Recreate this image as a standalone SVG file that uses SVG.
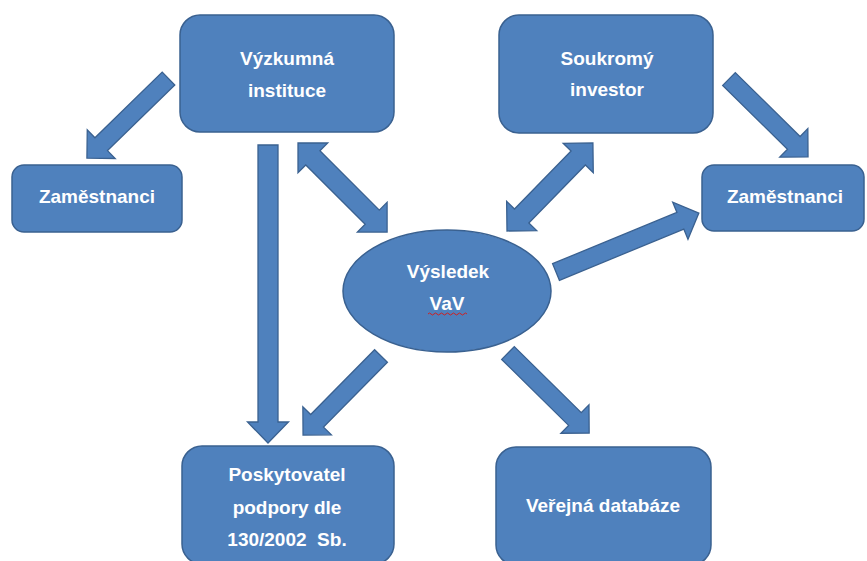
<svg xmlns="http://www.w3.org/2000/svg" width="867" height="561" viewBox="0 0 867 561">
<style>
.shape{fill:#4F81BD;stroke:#3A6190;stroke-width:1.5}
.arrow{fill:#4F81BD;stroke:#3A6190;stroke-width:1.3;stroke-linejoin:miter}
.t{font-family:"Liberation Sans",Arial,sans-serif;font-weight:bold;font-size:19px;fill:#FFFFFF;text-anchor:middle}
</style>
<rect width="867" height="561" fill="#FFFFFF"/>
<g id="connectors">
  <path class="arrow" transform="translate(168.5,78.5) rotate(135.7)" d="M0,-9 H94 V-20 L114,0 L94,20 V9 H0 Z"/>
  <path class="arrow" transform="translate(268,145) rotate(90)" d="M0,-10 H277 V-20.5 L298,0 L277,20.5 V10 H0 Z"/>
  <path class="arrow" transform="translate(298,143) rotate(45)" d="M0,0 L21,-21 V-10 H105 V-21 L126,0 L105,21 V10 H21 V21 Z"/>
  <path class="arrow" transform="translate(507,231) rotate(-45.7)" d="M0,0 L21,-21 V-10 H102 V-21 L123,0 L102,21 V10 H21 V21 Z"/>
  <path class="arrow" transform="translate(729,79) rotate(44.6)" d="M0,-9 H91 V-20 L111,0 L91,20 V9 H0 Z"/>
  <path class="arrow" transform="translate(556,272) rotate(-22.4)" d="M0,-9 H134.5 V-20 L154.5,0 L134.5,20 V9 H0 Z"/>
  <path class="arrow" transform="translate(381,356) rotate(134.6)" d="M0,-9 H91 V-20 L111,0 L91,20 V9 H0 Z"/>
  <path class="arrow" transform="translate(508,353) rotate(44.6)" d="M0,-9 H94 V-20 L114,0 L94,20 V9 H0 Z"/>
</g>
<g id="vyzkumna">
  <rect class="shape" x="180" y="15" width="214" height="117" rx="20"/>
  <text class="t" x="287" y="65">Výzkumná</text>
  <text class="t" x="287" y="97">instituce</text>
</g>
<g id="zamestnanci-left">
  <rect class="shape" x="12" y="165" width="170" height="67" rx="12"/>
  <text class="t" x="97" y="203">Zaměstnanci</text>
</g>
<g id="soukromy">
  <rect class="shape" x="499" y="15" width="214" height="118" rx="20"/>
  <text class="t" x="607" y="65">Soukromý</text>
  <text class="t" x="607" y="96">investor</text>
</g>
<g id="zamestnanci-right">
  <rect class="shape" x="702" y="165" width="162" height="66" rx="12"/>
  <text class="t" x="785" y="203">Zaměstnanci</text>
</g>
<g id="vysledek">
  <ellipse class="shape" cx="447" cy="291" rx="104" ry="61"/>
  <text class="t" x="448" y="278">Výsledek</text>
  <text class="t" x="447" y="310">VaV</text>
  <path d="M428,314 q1.5,-2 3,0 t3,0 t3,0 t3,0 t3,0 t3,0 t3,0 t3,0 t3,0 t3,0 t3,0 t3,0 t3,0" fill="none" stroke="#D02020" stroke-width="1"/>
</g>
<g id="poskytovatel">
  <rect class="shape" x="182" y="446" width="212" height="118" rx="20"/>
  <text class="t" x="287" y="481">Poskytovatel</text>
  <text class="t" x="287" y="514">podpory dle</text>
  <text class="t" x="287" y="546" xml:space="preserve">130/2002  Sb.</text>
</g>
<g id="verejna">
  <rect class="shape" x="496" y="447" width="215" height="118" rx="20"/>
  <text class="t" x="603" y="512">Veřejná databáze</text>
</g>
</svg>
